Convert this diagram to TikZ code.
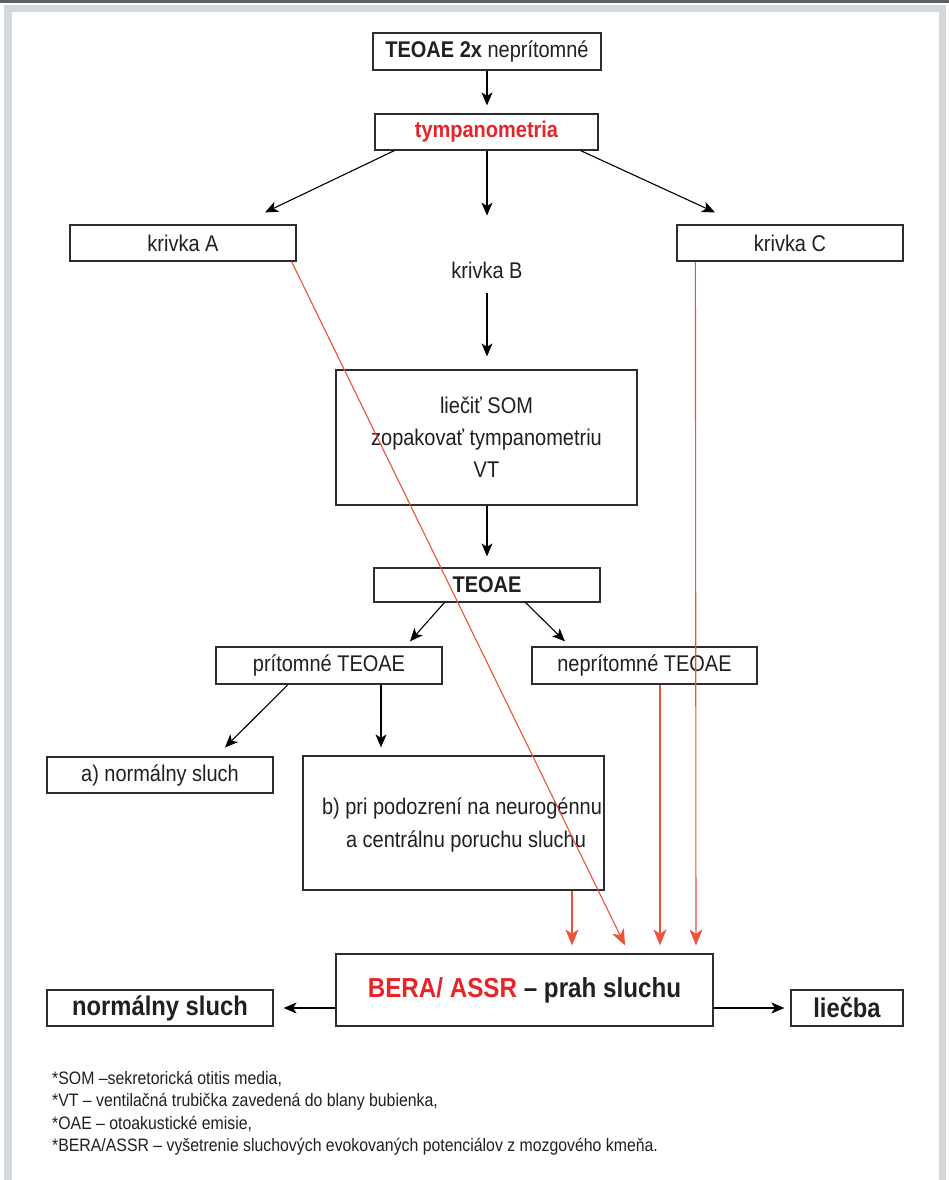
\documentclass[tikz,border=0pt]{standalone}
\usepackage{fontspec}
\setmainfont{Liberation Sans}[FakeStretch=0.88]
\usetikzlibrary{arrows.meta,calc}
\definecolor{framegray}{RGB}{211,216,220}
\definecolor{bardark}{RGB}{90,95,100}
\definecolor{boxline}{RGB}{45,45,45}
\definecolor{txt}{RGB}{35,31,32}
\definecolor{hired}{RGB}{232,36,40}
\definecolor{arrred}{RGB}{238,82,56}
\begin{document}
\begin{tikzpicture}[x=1pt,y=-1pt,
  box/.style={draw=boxline,line width=1.2pt,rectangle,inner sep=0pt,text=txt,
    font=\fontsize{22.7}{32}\selectfont,align=center},
  lbl/.style={text=txt,font=\fontsize{22.7}{32}\selectfont,inner sep=0pt,align=center},
  bigbox/.style={box,font=\fontsize{27}{30}\selectfont\bfseries},
  arr/.style={draw=black,line width=1.1pt,-{Stealth[length=13pt,width=11pt,inset=3.5pt]}},
  rarr/.style={draw=arrred,line width=1.1pt,-{Stealth[length=16pt,width=13pt,inset=4.5pt]}},
  note/.style={anchor=west,text=txt,font=\fontsize{18}{20}\selectfont,inner sep=0pt}]
\useasboundingbox (0,0) rectangle (949,1180);
\fill[bardark] (0,0) rectangle (949,3);
\fill[framegray] (4,5) rectangle (946,1180);
\fill[white] (12,12.5) rectangle (939,1180);

% nodes
\node[box,minimum width=228pt,minimum height=37pt] (n1) at (487,51.5) {\textbf{TEOAE 2x} neprítomné};
\node[box,minimum width=223pt,minimum height=36pt,text=hired,font=\fontsize{22.7}{32}\selectfont\bfseries] (n2) at (486.5,132) {tympanometria};
\node[box,minimum width=226pt,minimum height=36pt] (kA) at (183,243) {krivka A};
\node[lbl] (kB) at (487,270) {krivka B};
\node[box,minimum width=226pt,minimum height=36pt] (kC) at (790,243) {krivka C};
\node[box,minimum width=301pt,minimum height=135pt] (som) at (486.5,437.5) {liečiť SOM\\zopakovať tympanometriu\\VT};
\node[box,minimum width=226pt,minimum height=34pt,font=\fontsize{22.7}{32}\selectfont\bfseries] (teoae) at (487,585) {TEOAE};
\node[box,minimum width=226pt,minimum height=37pt] (pri) at (329,665.5) {prítomné TEOAE};
\node[box,minimum width=225pt,minimum height=37pt] (nepri) at (644.5,665.5) {neprítomné TEOAE};
\node[box,minimum width=226pt,minimum height=36pt] (norm1) at (160,775) {a) normálny sluch};
\node[box,minimum width=301pt,minimum height=134pt] (bbox) at (453.5,823) {};
\node[lbl,font=\fontsize{22.7}{33}\selectfont] (btext) at (462,825) {b) pri podozrení na neurogénnu\\\hspace*{8pt}a centrálnu poruchu sluchu};
\node[box,minimum width=377pt,minimum height=72pt,font=\fontsize{27.5}{30}\selectfont\bfseries] (bera) at (524.5,990) {\textcolor{hired}{BERA/ ASSR} -- prah sluchu};
\node[bigbox,minimum width=226pt,minimum height=36pt] (norm2) at (160,1008) {normálny sluch};
\node[bigbox,minimum width=112pt,minimum height=36pt] (liecba) at (847,1008) {liečba};

% black connectors
\draw[arr] (n1.south) -- ($(n2.north)+(0.5,-8)$);
\draw[arr] ($(n2.south west)+(20,0)$) -- ($(kA.north)+(82,-12)$);
\draw[arr] ($(n2.south)+(0.5,0)$) -- ($(n2.south)+(0.5,65)$);
\draw[arr] ($(n2.south east)+(-18,0)$) -- ($(kC.north)+(-75,-12)$);
\draw[arr] ($(kB.south)+(0,14)$) -- ($(som.north)+(0.5,-13)$);
\draw[arr] ($(som.south)+(0.5,0)$) -- ($(teoae.north)+(0,-11)$);
\draw[arr] ($(teoae.south west)+(71,0)$) -- ($(pri.north)+(81,-5)$);
\draw[arr] ($(teoae.south east)+(-75,0)$) -- ($(nepri.north)+(-79.5,-5)$);
\draw[arr] ($(pri.south)+(-41,0)$) -- ($(norm1.north)+(65,-9)$);
\draw[arr] ($(pri.south)+(52,0)$) -- ($(bbox.north)+(-72.5,-8)$);
\draw[arr] (bera.west |- norm2.east) -- ($(norm2.east)+(10,0)$);
\draw[arr] (bera.east |- liecba.west) -- ($(liecba.west)+(-6,0)$);

% red connectors
\draw[rarr] ($(bbox.south)+(118.5,0)$) -- ($(bera.north)+(47.5,-8)$);
\draw[rarr] ($(kA.south east)+(-5,0)$) -- ($(bera.north)+(100.5,-8)$);
\draw[rarr] ($(nepri.south)+(15.5,0)$) -- ($(bera.north)+(135.5,-8)$);
\draw[rarr] ($(kC.south west)+(19,0)$) -- ($(bera.north)+(171.5,-8)$);

% footnotes
\node[note] (f1) at (52,1079) {*SOM --sekretorická otitis media,};
\node[note] (f2) at (52,1101.5) {*VT -- ventilačná trubička zavedená do blany bubienka,};
\node[note] (f3) at (52,1124) {*OAE -- otoakustické emisie,};
\node[note] (f4) at (52,1146.5) {*BERA/ASSR -- vyšetrenie sluchových evokovaných potenciálov z mozgového kmeňa.};
\end{tikzpicture}
\end{document}
